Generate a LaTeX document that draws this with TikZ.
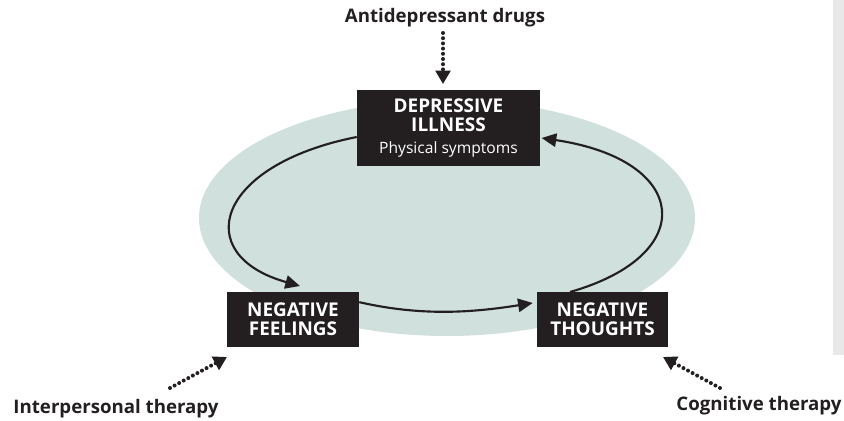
\documentclass[tikz,border=0pt]{standalone}
\usepackage{fontspec}
\setmainfont{Open Sans}
\usetikzlibrary{arrows.meta}

\definecolor{cyclebg}{RGB}{208,225,221}
\definecolor{boxfill}{RGB}{35,31,32}
\definecolor{stripgray}{RGB}{232,232,232}

\tikzset{
  statebox/.style={fill=boxfill, text=white, font=\bfseries\fontsize{14.2}{14}\selectfont,
    align=center, inner sep=0pt},
  therapy/.style={font=\fontsize{14}{15}\selectfont\bfseries, text=boxfill},
  cyclearrow/.style={line width=1.6pt, boxfill, -{Triangle[length=11pt,width=10pt]}},
  treatarrow/.style={line width=3pt, boxfill, dash pattern=on 0pt off 3.9pt, line cap=round,
    -{Triangle[length=10pt,width=11pt]}}
}

\begin{document}
\begin{tikzpicture}[x=0.75pt, y=-0.75pt]
    \useasboundingbox (0,0) rectangle (844,421);
    \fill[stripgray] (833,0) rectangle (844,355);

    % background of the cycle
    \fill[cyclebg] (447,218) ellipse [x radius=248, y radius=118];

    \node[statebox, minimum width=137.25pt, minimum height=57pt] (illness) at (448.5,128)
        {DEPRESSIVE\\ILLNESS\\[2.5pt]{\mdseries\fontsize{11.7}{12}\selectfont Physical symptoms}};
    \node[statebox, minimum width=99pt, minimum height=41.25pt] (feelings) at (293,319.5)
        {NEGATIVE\\FEELINGS};
    \node[statebox, minimum width=98.25pt, minimum height=41.25pt] (thoughts) at (602.5,319.5)
        {NEGATIVE\\THOUGHTS};

    \node[therapy] (drugs) at (445,18) {Antidepressant drugs};
    \node[therapy] (interp) at (116,409) {Interpersonal therapy};
    \node[therapy] (cogn) at (759,406) {Cognitive therapy};

    \coordinate (drugstail) at (443,33);
    \coordinate (interptail) at (170,388);
    \coordinate (cogntail) at (720,388);

    % the cycle
    \draw[cyclearrow] ([yshift=-6.75pt]illness.west) .. controls (215,165) and (190,255) .. (300,286);
    \draw[cyclearrow] ([yshift=13pt]feelings.east) .. controls (420,316) and (470,313) .. ([yshift=12.4pt,xshift=-3pt]thoughts.west);
    \draw[cyclearrow] (570,292) .. controls (700,255) and (690,160) .. ([yshift=-7.5pt,xshift=1pt]illness.east);

    % treatments
    \draw[treatarrow] (drugstail) -- (443,84);
    \draw[treatarrow] (interptail) -- (227,357);
    \draw[treatarrow] (cogntail) -- (663,357);
\end{tikzpicture}
\end{document}
